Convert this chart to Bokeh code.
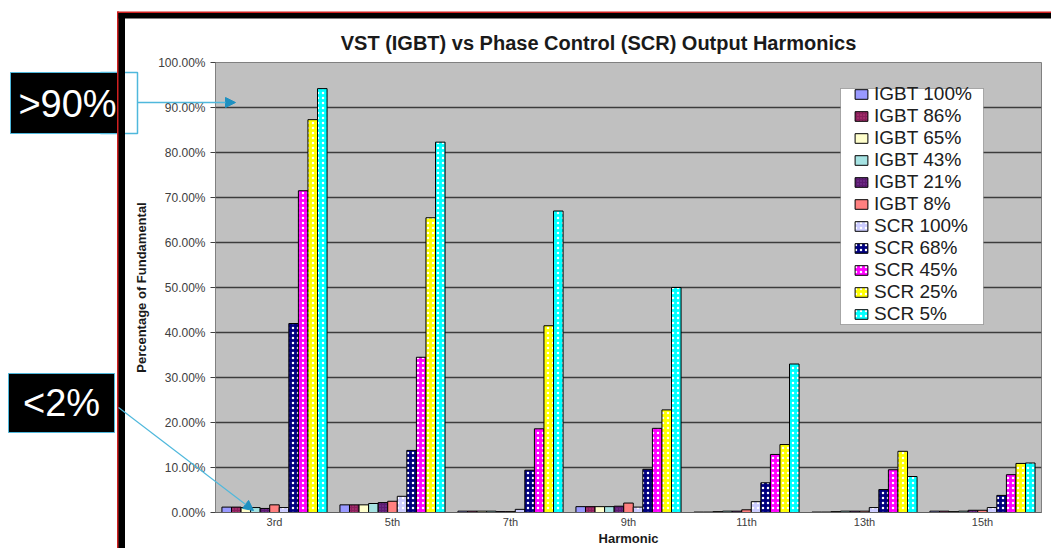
from bokeh.plotting import figure
from bokeh.models import (ColumnDataSource, FactorRange, Range1d, FixedTicker,
                          NumeralTickFormatter, Legend, LegendItem,
                          BoxAnnotation, Arrow, NormalHead)
from bokeh.transform import dodge
from bokeh.core.properties import value
from bokeh.embed import file_html
from bokeh.resources import INLINE

# ---------------- data (percent of fundamental) ----------------
harmonics = ["3rd", "5th", "7th", "9th", "11th", "13th", "15th"]
series_names = ["IGBT 100%", "IGBT 86%", "IGBT 65%", "IGBT 43%", "IGBT 21%", "IGBT 8%",
                "SCR 100%", "SCR 68%", "SCR 45%", "SCR 25%", "SCR 5%"]
igbt_100 = [1.2, 1.7, 0.3, 1.3, 0.1, 0.1, 0.3]
igbt_86 = [1.2, 1.7, 0.3, 1.3, 0.1, 0.1, 0.3]
igbt_65 = [1.1, 1.7, 0.3, 1.3, 0.2, 0.2, 0.2]
igbt_43 = [1.1, 2.0, 0.3, 1.3, 0.3, 0.3, 0.3]
igbt_21 = [0.9, 2.2, 0.2, 1.4, 0.3, 0.3, 0.5]
igbt_8 = [1.7, 2.5, 0.2, 2.1, 0.6, 0.3, 0.5]
scr_100 = [1.1, 3.6, 0.7, 1.2, 2.4, 1.1, 1.1]
scr_68 = [42.0, 13.8, 9.4, 9.6, 6.6, 5.1, 3.8]
scr_45 = [71.5, 34.5, 18.6, 18.7, 12.9, 9.5, 8.4]
scr_25 = [87.3, 65.5, 41.5, 22.8, 15.1, 13.6, 10.9]
scr_5 = [94.2, 82.3, 67.0, 50.0, 33.0, 8.0, 11.0]
series_values = [igbt_100, igbt_86, igbt_65, igbt_43, igbt_21, igbt_8,
                 scr_100, scr_68, scr_45, scr_25, scr_5]
y_ticks = [0.0, 0.1, 0.2, 0.3, 0.4, 0.5, 0.6, 0.7, 0.8, 0.9, 1.0]
title_text = "VST (IGBT) vs Phase Control (SCR) Output Harmonics"
callout_high = ">90%"
callout_low = "<2%"

# ---------------- styles ----------------
series_colors = ["#9999ff", "#8a1f5c", "#ffffcc", "#a6e3e3", "#5c1a70", "#ff8080",
                 "#ccccff", "#000080", "#ff00ff", "#ffff00", "#00ffff"]
series_hatch = [None, "dot", None, None, "dot", None,
                "dot", "dot", "dot", "dot", "dot"]
series_hatch_color = ["white", "#c0407a", "white", "white", "#8040a0", "white",
                      "white", "white", "white", "white", "white"]
series_hatch_scale = [4, 3, 4, 4, 3, 4, 5, 5, 5, 5, 5]

FONT = "Liberation Sans"
W, H = 1051, 548
F_LEFT, F_TOP, F_RIGHT, F_BOTTOM = 215, 62, 1041, 516   # frame in canvas px

src = ColumnDataSource(data={"h": harmonics,
                             **{f"s{i}": [v / 100.0 for v in vals]
                                for i, vals in enumerate(series_values)}})

p = figure(x_range=FactorRange(*harmonics, range_padding=0, factor_padding=0),
           y_range=Range1d(0, 1),
           width=W, height=H, output_backend="svg", toolbar_location=None,
           min_border_left=F_LEFT, min_border_right=W - F_RIGHT,
           min_border_top=F_TOP, min_border_bottom=H - F_BOTTOM,
           background_fill_color="#c0c0c0", border_fill_color="white",
           outline_line_color="#808080", outline_line_width=1)

p.xgrid.visible = False
p.ygrid.grid_line_color = "#3c3c3c"
p.ygrid.grid_line_width = 1.5
p.ygrid.ticker = FixedTicker(ticks=y_ticks)

ya = p.yaxis[0]
ya.ticker = FixedTicker(ticks=y_ticks)
ya.formatter = NumeralTickFormatter(format="0.00%")
ya.major_label_text_font = FONT
ya.major_label_text_font_size = "12px"
ya.major_label_text_color = "#404040"
ya.axis_line_color = "#808080"
ya.major_tick_line_color = "#404040"
ya.major_tick_out = 5
ya.major_tick_in = 0
ya.minor_tick_line_color = None
ya.axis_label = "Percentage of Fundamental"
ya.axis_label_text_font = FONT
ya.axis_label_text_font_style = "bold"
ya.axis_label_text_font_size = "13px"
ya.axis_label_text_color = "#1a1a1a"
ya.axis_label_standoff = 6
ya.major_label_standoff = 5

xa = p.xaxis[0]
xa.major_label_text_font = FONT
xa.major_label_text_font_size = "11px"
xa.major_label_text_color = "#404040"
xa.axis_line_color = "#606060"
xa.major_tick_line_color = None
xa.major_tick_out = 0
xa.major_tick_in = 0
xa.major_label_standoff = 3
xa.axis_label = "Harmonic"
xa.axis_label_text_font = FONT
xa.axis_label_text_font_style = "bold"
xa.axis_label_text_font_size = "13px"
xa.axis_label_text_color = "#1a1a1a"
xa.axis_label_standoff = 0

bar_w = 0.081
items = []
for i, name in enumerate(series_names):
    kw = dict(fill_color=series_colors[i], line_color="black", line_width=1)
    if series_hatch[i]:
        kw.update(hatch_pattern=series_hatch[i], hatch_color=series_hatch_color[i],
                  hatch_scale=series_hatch_scale[i], hatch_weight=1)
    r = p.vbar(x=dodge("h", (i - 5) * bar_w, range=p.x_range), top=f"s{i}",
               width=bar_w, source=src, **kw)
    items.append(LegendItem(label=name, renderers=[r]))


def fx(px):
    return px - F_LEFT


def fy(py):
    return F_BOTTOM - py


# legend frame + legend
p.add_layout(BoxAnnotation(left=fx(840), right=fx(983), top=fy(92), bottom=fy(328),
                           left_units="screen", right_units="screen",
                           top_units="screen", bottom_units="screen",
                           fill_color="white", fill_alpha=1,
                           line_color="#202020", line_width=1))
legend = Legend(items=items, location=(fx(853), fy(329)),
                label_text_font=FONT, label_text_font_size="19px",
                label_text_color="#202020", glyph_width=16, glyph_height=12,
                label_height=21, spacing=0, padding=3, margin=0,
                label_standoff=5, border_line_color=None,
                background_fill_alpha=0)
p.add_layout(legend)

# ---------------- overlay figure for slide decorations ----------------
deco = figure(width=W, height=H, output_backend="svg", toolbar_location=None,
              x_range=Range1d(0, W), y_range=Range1d(H, 0),
              x_axis_location=None, y_axis_location=None, min_border=0,
              background_fill_alpha=0, border_fill_alpha=0, outline_line_color=None,
              styles={"position": "absolute", "left": "0px", "top": "0px"})
deco.grid.visible = False

deco.text(x=[598], y=[42], text=[title_text], text_font=value(FONT),
          text_font_style="bold", text_font_size="20px", text_color="#1a1a1a",
          text_align="center", text_baseline="middle")

CY = "#4fb8dc"
deco.quad(left=[100], right=[137], top=[72], bottom=[133], fill_alpha=0,
          line_color=CY, line_width=1.5)
deco.quad(left=[10, 8], right=[120, 114], top=[72, 373], bottom=[133, 432],
          fill_color="black", line_color=CY, line_width=1)
deco.text(x=[67, 61], y=[103, 402], text=[callout_high, callout_low],
          text_font=value(FONT), text_font_size="38px", text_color="white",
          text_align="center", text_baseline="middle")
deco.add_layout(Arrow(x_start=137, y_start=102, x_end=235, y_end=102,
                      line_color=CY, line_width=1.5,
                      end=NormalHead(size=10, fill_color="#1e90c0",
                                     line_color="#1e90c0")))
deco.add_layout(Arrow(x_start=118, y_start=407, x_end=253, y_end=510,
                      line_color=CY, line_width=1.2,
                      end=NormalHead(size=10, fill_color="#1e90c0",
                                     line_color="#1e90c0")))

# outer slide frame (red edge + thick black line)
deco.quad(left=[116.5, 116.5], right=[118.5, W], top=[11, 11], bottom=[H, 12.5],
          fill_color="#d02020", line_color=None)
deco.quad(left=[118, 118], right=[124.5, W], top=[12.5, 12.5], bottom=[H, 18],
          fill_color="black", line_color=None)

open("out.html", "w").write(file_html([p, deco], INLINE))
